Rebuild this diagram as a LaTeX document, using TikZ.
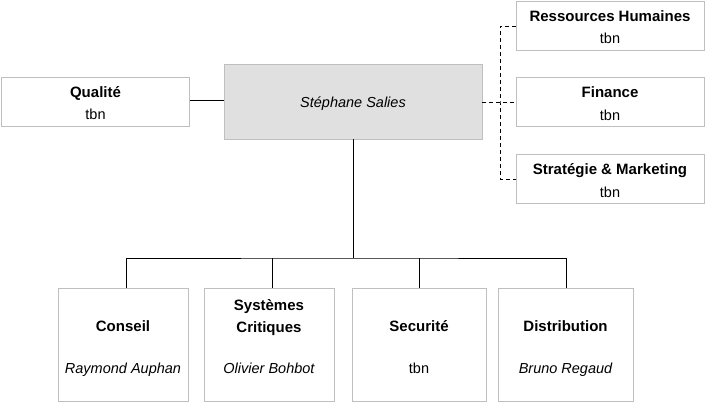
\documentclass[tikz,border=0pt]{standalone}
\usepackage{fontspec}
\setmainfont{Liberation Sans}
\begin{document}
\begin{tikzpicture}[x=1pt,y=-1pt,
  box/.style={draw=black!25, line width=0.8pt, fill=white},
  title/.style={font=\fontsize{15}{22}\selectfont\bfseries, inner sep=0pt, anchor=base},
  sub/.style={font=\fontsize{14.5}{18}\selectfont, inner sep=0pt, anchor=base},
  isub/.style={font=\fontsize{14.5}{18}\selectfont\itshape, inner sep=0pt, anchor=base},
  link/.style={draw=black, line width=0.8pt},
  dlink/.style={draw=black, line width=0.8pt, dash pattern=on 4pt off 3pt}]
\useasboundingbox (0,0) rectangle (706,402);
% boxes
\draw[box] (1.5,77) rectangle (189.5,126);
\draw[box, fill=black!12] (224,64) rectangle (482,139);
\draw[box] (516,1) rectangle (704.5,50);
\draw[box] (516,77) rectangle (704.5,126);
\draw[box] (516,154) rectangle (704.5,203);
\draw[box] (58,288) rectangle (188,401);
\draw[box] (204,288) rectangle (334,401);
\draw[box] (352,288) rectangle (486,401);
\draw[box] (498,288) rectangle (633,401);
% texts
\node[title] (qualT) at (95.5,97) {Qualit\'e};
\node[sub] (qualS) at (95.5,119) {tbn};
\node[isub] (bossT) at (353,107) {St\'ephane Salies};
\node[title] (rhT) at (610,21) {Ressources Humaines};
\node[sub] (rhS) at (610,43) {tbn};
\node[title] (finT) at (610,97) {Finance};
\node[sub] (finS) at (610,120) {tbn};
\node[title] (stT) at (610,174) {Strat\'egie \& Marketing};
\node[sub] (stS) at (610,197) {tbn};
\node[title] (c1T) at (123,331) {Conseil};
\node[isub] (c1S) at (123,373) {Raymond Auphan};
\node[title] (c2T) at (269,310) {Syst\`emes};
\node[title] (c2U) at (269,332) {Critiques};
\node[isub] (c2S) at (269,373) {Olivier Bohbot};
\node[title] (c3T) at (419,331) {Securit\'e};
\node[sub] (c3S) at (419,373) {tbn};
\node[title] (c4T) at (565.5,331) {Distribution};
\node[isub] (c4S) at (565.5,373) {Bruno Regaud};
% coordinates for connectors
\coordinate (qualR) at (189.5,100);
\coordinate (bossL) at (224,100);
\coordinate (bossB) at (353,139);
\coordinate (bar) at (353,258);
\coordinate (bossR) at (482,102);
\coordinate (trunk) at (500,102);
\coordinate (rhL) at (516,26);
\coordinate (finL) at (516,102);
\coordinate (stL) at (516,179);
\coordinate (c1) at (126,288);
\coordinate (c2) at (272,288);
\coordinate (c3) at (419,288);
\coordinate (c4) at (566,288);
% connectors
\draw[link] (qualR) -- (bossL);
\draw[link] (bossB) -- (bar);
\draw[link] (c1) |- (bar) -| (c4);
\draw[link] (c2) -- (c2 |- bar);
\draw[link] (c3) -- (c3 |- bar);
\draw[dlink] (bossR) -- (finL);
\draw[dlink] (rhL) -| (trunk) |- (stL);
\end{tikzpicture}
\end{document}
